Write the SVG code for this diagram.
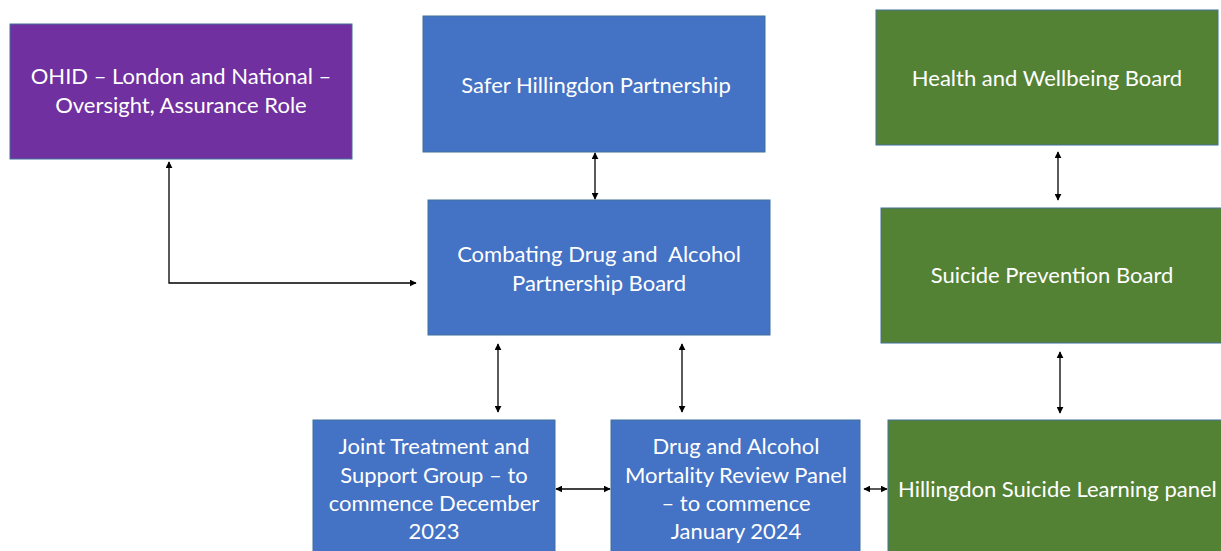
<svg xmlns="http://www.w3.org/2000/svg" width="1221" height="551" viewBox="0 0 1221 551">
  <style>
    .box { stroke: #41719C; stroke-width: 1; }
    .purple { fill: #7030A0; }
    .blue { fill: #4472C4; }
    .green { fill: #548235; }
    .label { font-family: Lato, "Liberation Sans", sans-serif; font-size: 22px; fill: #FFFFFF; text-anchor: middle; white-space: pre; }
    .link { fill: none; stroke: #000000; stroke-width: 1.3; marker-start: url(#head); marker-end: url(#head); }
  </style>
  <defs>
    <marker id="head" viewBox="0 0 10 10" refX="9" refY="5" markerWidth="7" markerHeight="7" markerUnits="userSpaceOnUse" orient="auto-start-reverse">
      <path d="M0,0 L10,5 L0,10 z" fill="#000000"/>
    </marker>
  </defs>

  <rect width="1221" height="551" fill="#FFFFFF"/>

  <g id="ohid">
    <rect class="box purple" x="10" y="24" width="342" height="135"/>
    <text class="label" x="181" y="84">OHID – London and National –</text>
    <text class="label" x="181" y="113">Oversight, Assurance Role</text>
  </g>

  <g id="safer-hillingdon">
    <rect class="box blue" x="423" y="16" width="342" height="136"/>
    <text class="label" x="596" y="93">Safer Hillingdon Partnership</text>
  </g>

  <g id="health-wellbeing">
    <rect class="box green" x="876" y="10" width="342" height="135"/>
    <text class="label" x="1047" y="86">Health and Wellbeing Board</text>
  </g>

  <g id="combating-board">
    <rect class="box blue" x="428" y="200" width="342" height="135"/>
    <text class="label" x="599" y="262">Combating Drug and  Alcohol</text>
    <text class="label" x="599" y="291">Partnership Board</text>
  </g>

  <g id="suicide-prevention">
    <rect class="box green" x="881" y="208" width="345" height="135"/>
    <text class="label" x="1052" y="283">Suicide Prevention Board</text>
  </g>

  <g id="joint-treatment">
    <rect class="box blue" x="313" y="420" width="242" height="140"/>
    <text class="label" x="434" y="454">Joint Treatment and</text>
    <text class="label" x="434" y="483">Support Group – to</text>
    <text class="label" x="434" y="511">commence December</text>
    <text class="label" x="434" y="539">2023</text>
  </g>

  <g id="mortality-review">
    <rect class="box blue" x="611" y="420" width="249" height="140"/>
    <text class="label" x="736" y="454">Drug and Alcohol</text>
    <text class="label" x="736" y="483">Mortality Review Panel</text>
    <text class="label" x="736" y="511">– to commence</text>
    <text class="label" x="736" y="539">January 2024</text>
  </g>

  <g id="suicide-learning">
    <rect class="box green" x="888" y="420" width="345" height="140"/>
    <text class="label" x="898" y="497" style="text-anchor:start">Hillingdon Suicide Learning panel</text>
  </g>

  <g id="connectors">
    <path class="link" d="M169,162 V283 H416"/>
    <path class="link" d="M595,153 V199"/>
    <path class="link" d="M1058,152 V200"/>
    <path class="link" d="M498,344 V412"/>
    <path class="link" d="M682,344 V412"/>
    <path class="link" d="M1060,352 V413"/>
    <path class="link" d="M556,489 H610"/>
    <path class="link" d="M864,489 H887"/>
  </g>
</svg>
